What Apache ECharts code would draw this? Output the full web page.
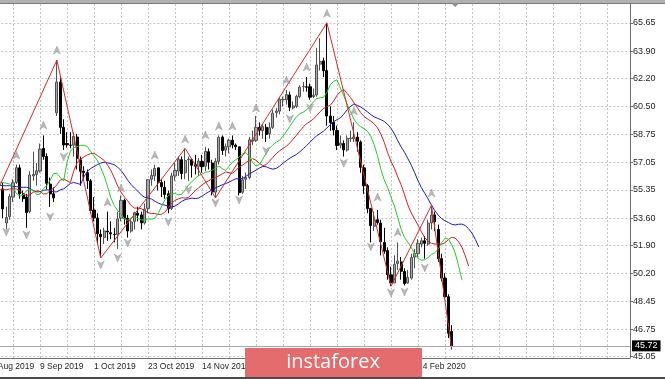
<!DOCTYPE html>
<html><head><meta charset="utf-8">
<script src="https://cdn.jsdelivr.net/npm/echarts@6/dist/echarts.min.js"></script>
<style>html,body{margin:0;padding:0;background:#fff}#c{width:665px;height:379px}</style>
</head><body><div id="c"></div>
<script>
// ---- price axis ticks ----
const yTicks = [45.05, 46.75, 48.45, 50.20, 51.90, 53.60, 55.35, 57.05, 58.75, 60.50, 62.20, 63.90, 65.65];
// ---- bar-index positions of vertical grid lines and date labels ----
const xGridIdx = [3, 11, 19, 27, 35, 43, 51, 59, 67, 75, 83, 91, 99, 107, 115, 123, 131, 139, 147, 155, 163, 171, 179];
const xLabelIdx = [-5, 11, 27, 43, 59, 75, 91, 107, 123];
const xLabelText = ['16 Aug 2019', '9 Sep 2019', '1 Oct 2019', '23 Oct 2019', '14 Nov 2019', '6 Dec 2019', '31 Dec 2019', '23 Jan 2020', '14 Feb 2020'];
const lastPrice = 45.72;
const shiftIdx = 134;
const lineStart = -1;   // first Alligator value belongs to the bar just left of the screen

// ---- daily candles (bar 0 = 23 Aug 2019) ----
const opens = [
55.40,53.30,53.70,54.90,55.80,56.70,55.10,54.90,54.00,56.20,
56.30,56.50,57.90,57.40,55.70,55.10,60.10,62.00,59.20,58.20,
58.10,58.10,58.60,57.20,56.50,56.40,55.90,54.10,53.60,52.60,
52.40,52.80,52.70,52.60,52.60,53.60,54.70,53.60,52.80,53.40,
53.90,53.80,53.30,54.20,56.00,56.20,56.70,55.80,55.50,55.10,
54.20,56.20,56.50,57.20,56.40,57.20,57.20,56.90,56.80,57.10,
56.80,57.70,57.00,55.20,57.10,58.60,57.80,58.00,58.40,58.10,
58.00,55.20,56.00,56.10,58.35,58.40,59.20,59.00,59.20,58.80,
59.20,60.10,60.20,60.90,60.90,61.20,60.40,60.50,61.10,61.70,
61.70,61.70,61.10,61.20,63.10,63.30,62.70,59.90,59.50,59.00,
58.10,58.20,57.80,58.50,58.50,58.60,58.30,56.70,55.60,54.20,
53.10,53.50,53.30,52.10,51.60,50.10,49.60,50.80,50.90,50.30,
49.60,49.90,51.20,51.40,52.00,52.20,52.00,53.30,53.80,52.90,
51.10,49.90,48.75,46.60];
const highs = [
55.80,54.30,55.10,56.00,56.90,56.90,55.30,55.10,56.50,57.70,
57.00,58.20,58.70,57.60,56.10,55.50,63.35,62.30,59.70,58.90,
58.90,58.90,58.80,57.40,56.80,56.60,56.00,54.90,53.90,52.90,
53.00,54.00,53.40,53.00,54.00,55.00,54.80,53.80,53.60,54.00,
54.30,54.00,54.50,56.00,56.60,56.90,56.70,56.00,55.90,55.30,
56.40,57.00,57.40,57.40,57.90,57.40,57.30,57.50,57.30,57.50,
58.00,57.90,57.20,57.30,58.70,58.70,58.20,58.50,58.70,58.20,
58.00,56.20,56.40,58.60,59.00,59.90,59.50,59.40,59.40,59.50,
60.30,60.40,61.00,61.10,61.50,61.40,60.80,61.20,61.80,62.00,
62.30,61.90,61.60,64.10,64.70,63.50,65.65,60.50,59.90,59.30,
58.70,58.40,58.70,59.00,59.50,58.90,58.40,56.90,55.70,54.20,
54.00,54.10,53.50,53.00,51.80,50.60,51.30,52.10,51.20,50.50,
50.40,51.40,51.70,52.30,52.40,52.50,53.50,54.40,54.00,53.20,
51.40,50.20,48.90,47.00];
const lows = [
53.60,52.90,53.50,54.60,55.70,54.80,54.60,53.00,53.90,55.90,
55.60,56.40,57.20,55.40,54.30,54.60,59.90,58.80,57.80,57.95,
57.90,57.40,56.60,55.60,55.90,55.40,53.90,53.40,52.00,51.14,
52.00,52.20,52.30,52.10,51.70,53.40,53.20,52.40,52.70,52.90,
53.40,52.90,53.20,53.90,55.60,55.90,55.30,54.90,54.80,53.90,
54.10,55.90,56.20,56.00,56.00,55.90,56.10,56.30,56.20,56.40,
56.50,56.60,55.00,54.85,56.90,57.50,57.40,57.60,57.90,57.80,
55.00,55.10,55.40,56.00,58.10,58.30,58.70,58.50,58.30,58.50,
59.10,59.80,60.00,60.50,60.60,60.20,60.30,60.40,61.00,61.40,
61.40,60.90,61.00,61.10,62.70,62.30,59.30,59.00,58.70,57.80,
57.90,57.40,57.70,58.30,58.30,57.70,56.40,55.10,53.90,52.10,
52.80,53.20,51.30,51.40,49.80,49.40,49.60,50.40,49.80,49.45,
49.55,49.80,50.50,51.20,51.80,51.10,51.90,52.90,52.80,50.90,
49.70,48.60,46.20,45.50];
const closes = [
54.17,53.64,54.93,55.78,56.71,55.10,54.80,53.94,56.26,56.30,
56.52,57.85,57.40,55.75,55.09,54.85,62.00,59.20,58.11,58.13,
58.09,58.64,57.29,56.49,56.41,55.91,54.07,53.62,52.64,52.45,
52.81,52.75,52.63,52.59,53.55,54.70,53.59,52.81,53.36,53.93,
53.78,53.31,54.16,55.97,56.23,56.66,55.81,55.54,55.06,54.18,
56.20,56.54,57.23,56.35,57.15,57.24,56.86,56.80,57.12,56.77,
57.72,57.05,55.21,57.11,58.58,57.77,58.01,58.41,58.11,58.00,
55.17,55.96,56.10,58.43,58.43,59.20,59.02,59.24,58.76,59.18,
60.07,60.21,60.94,60.93,61.22,60.44,60.52,61.11,61.68,61.72,
61.68,61.06,61.18,63.05,63.27,62.70,59.90,59.50,59.04,58.08,
58.23,57.81,58.52,58.54,58.60,58.34,56.74,55.59,54.19,53.14,
53.48,53.33,52.14,51.56,50.11,49.61,50.75,50.95,50.32,49.57,
49.94,51.17,51.42,52.05,52.20,52.05,53.29,53.78,53.38,51.10,
49.90,48.75,46.50,45.72];

// ---- Alligator lines (first value at bar lineStart) ----
const jawLine = [
55.62,55.60,55.60,55.60,55.55,55.55,55.50,55.50,55.50,
55.44,55.30,55.22,55.23,55.31,55.35,55.32,55.22,55.22,55.34,
55.41,55.56,55.74,55.80,55.74,55.68,56.14,56.48,56.66,56.78,
56.90,57.00,57.05,57.01,56.96,56.89,56.74,56.54,56.26,55.93,
55.67,55.45,55.26,55.03,54.89,54.84,54.78,54.65,54.53,54.45,
54.40,54.33,54.29,54.34,54.48,54.63,54.74,54.79,54.83,54.81,
54.84,54.96,55.10,55.22,55.35,55.47,55.56,55.66,55.73,55.82,
55.93,56.03,56.03,56.04,56.18,56.33,56.44,56.56,56.69,56.79,
56.77,56.68,56.62,56.67,56.81,56.99,57.15,57.29,57.42,57.53,
57.70,57.88,58.08,58.29,58.50,58.68,58.82,58.97,59.16,59.37,
59.55,59.68,59.79,60.01,60.29,60.49,60.64,60.56,60.46,60.31,
60.16,59.99,59.85,59.76,59.67,59.56,59.39,59.13,58.80,58.37,
57.99,57.66,57.26,56.87,56.40,55.90,55.48,55.13,54.77,54.40,
54.05,53.78,53.57,53.43,53.33,53.22,53.18,53.22,53.23,53.14,
52.94,52.67,52.28,51.82];
const teethLine = [
55.35,55.35,55.35,55.40,55.40,55.40,
55.31,55.10,55.00,55.04,55.20,55.28,55.24,55.09,55.10,55.31,
55.43,55.66,55.95,56.02,55.90,55.79,56.52,57.02,57.24,57.37,
57.50,57.58,57.60,57.46,57.32,57.16,56.88,56.54,56.09,55.58,
55.20,54.91,54.67,54.37,54.22,54.22,54.19,54.05,53.94,53.88,
53.88,53.83,53.83,53.97,54.24,54.51,54.70,54.79,54.86,54.83,
54.88,55.08,55.30,55.47,55.65,55.80,55.91,56.03,56.10,56.21,
56.33,56.45,56.40,56.36,56.54,56.74,56.87,57.02,57.17,57.27,
57.17,56.97,56.84,56.90,57.11,57.36,57.58,57.75,57.91,58.03,
58.24,58.47,58.72,58.98,59.23,59.43,59.56,59.72,59.93,60.17,
60.37,60.48,60.56,60.82,61.18,61.40,61.54,61.29,61.04,60.73,
60.43,60.11,59.87,59.72,59.58,59.42,59.17,58.77,58.27,57.63,
57.10,56.67,56.14,55.65,55.04,54.40,53.91,53.54,53.16,52.75,
52.39,52.17,52.04,52.00,52.01,51.99,52.08,52.28,52.42,52.37,
52.14,51.80,51.27,50.64];
const lipsLine = [
55.82,55.80,55.75,55.70,
55.50,55.12,54.96,55.02,55.28,55.39,55.30,55.05,55.08,55.42,
55.60,55.94,56.34,56.37,56.11,55.89,57.04,57.74,57.95,58.01,
58.09,58.10,58.02,57.72,57.44,57.15,56.71,56.20,55.55,54.84,
54.37,54.07,53.85,53.54,53.46,53.61,53.69,53.57,53.49,53.48,
53.55,53.53,53.60,53.87,54.32,54.73,54.99,55.08,55.13,55.03,
55.07,55.35,55.64,55.85,56.06,56.22,56.31,56.43,56.46,56.56,
56.69,56.80,56.65,56.54,56.79,57.05,57.20,57.37,57.55,57.64,
57.41,57.04,56.81,56.91,57.24,57.61,57.91,58.12,58.29,58.40,
58.66,58.95,59.26,59.57,59.86,60.05,60.14,60.28,60.50,60.77,
60.97,61.02,61.05,61.36,61.83,62.04,62.13,61.62,61.15,60.63,
60.16,59.71,59.41,59.25,59.12,58.96,58.64,58.12,57.45,56.59,
55.95,55.49,54.88,54.34,53.63,52.90,52.41,52.11,51.79,51.41,
51.11,51.01,51.03,51.17,51.36,51.46,51.70,52.09,52.36,52.30,
51.96,51.45,50.67,49.79];

// ---- ZigZag vertices ----
const zigIdx = [-12, 16, 29, 54, 63, 96, 115, 127, 133];
const zigVal = [50.52, 63.35, 51.14, 57.90, 54.85, 65.65, 49.40, 54.40, 45.50];

// ---- Fractal arrows ----
const upIdx = [4, 12, 16, 31, 35, 45, 54, 60, 64, 68, 75, 84, 90, 96, 104, 111, 117, 127];
const upPos = [57.49, 59.34, 63.97, 54.59, 55.46, 57.49, 58.48, 58.73, 59.28, 59.28, 60.39, 62.12, 62.92, 66.24, 60.21, 54.90, 52.74, 55.15];
const dnIdx = [1, 7, 14, 18, 29, 34, 37, 49, 55, 63, 70, 78, 85, 91, 101, 109, 115, 119, 125];
const dnPos = [52.74, 52.56, 53.67, 57.37, 50.71, 51.14, 52.06, 53.36, 55.33, 54.53, 54.72, 57.74, 59.72, 60.39, 56.99, 51.82, 48.98, 49.04, 50.52];

const candleData = opens.map((o, i) => [i, o, closes[i], lows[i], highs[i]]);
const toPts = arr => arr.map((v, i) => [i + lineStart, v]);
const arrowPath = 'path://M5,0 L10,11 L5,8 L0,11 Z';
const FONT = 'Liberation Sans';

const chart = echarts.init(document.getElementById('c'), null, {renderer: 'canvas'});
const option = {
  animation: false,
  backgroundColor: '#ffffff',
  grid: {left: -14.65, right: 35, top: 4, bottom: 21, containLabel: false, outerBoundsMode: 'none'},
  xAxis: {
    type: 'value', min: -5.2, max: 185.8, position: 'bottom',
    axisLine: {show: true, onZero: false, lineStyle: {color: '#6e6e6e', width: 1}},
    axisTick: {show: false, customValues: xGridIdx},
    splitLine: {show: true, lineStyle: {color: '#c6c6c6', type: [2, 2], width: 1}},
    axisLabel: {
      customValues: xLabelIdx,
      formatter: v => xLabelText[xLabelIdx.indexOf(v)] || '',
      align: 'left', margin: 4, color: '#1e1e1e', fontSize: 8.5, fontFamily: FONT
    }
  },
  yAxis: {
    type: 'value', position: 'right', min: 44.97, max: 66.81,
    axisLine: {show: true, onZero: false, lineStyle: {color: '#6e6e6e', width: 1}},
    axisTick: {show: true, length: 3, customValues: yTicks, lineStyle: {color: '#6e6e6e'}},
    splitLine: {show: true, lineStyle: {color: '#c6c6c6', type: [2, 2], width: 1}},
    axisLabel: {
      customValues: yTicks, formatter: v => v.toFixed(2),
      margin: 3, color: '#1e1e1e', fontSize: 9, fontFamily: FONT
    }
  },
  series: [
    {
      type: 'candlestick', data: candleData, encode: {x: 0, y: [1, 2, 3, 4]},
      barWidth: 2.6, z: 2,
      itemStyle: {color: '#a8a8a8', color0: '#000000', borderColor: '#505050', borderColor0: '#000000', borderWidth: 1},
      markLine: {
        silent: true, symbol: ['none', 'none'], animation: false,
        lineStyle: {color: '#a8a8a8', type: 'solid', width: 1},
        label: {show: true, position: 'end', distance: 2, formatter: lastPrice.toFixed(2),
          backgroundColor: '#000', color: '#fff', fontSize: 9, fontFamily: FONT, padding: [1, 3, 1, 3]},
        data: [{yAxis: lastPrice}]
      }
    },
    {type: 'line', data: toPts(jawLine), symbol: 'none', z: 3, lineStyle: {color: '#1c1cc8', width: 1}},
    {type: 'line', data: toPts(teethLine), symbol: 'none', z: 3, lineStyle: {color: '#d41f1f', width: 1}},
    {type: 'line', data: toPts(lipsLine), symbol: 'none', z: 3, lineStyle: {color: '#22cc22', width: 1}},
    {type: 'line', data: zigIdx.map((x, i) => [x, zigVal[i]]), symbol: 'none', z: 4, lineStyle: {color: '#d42a2a', width: 1}},
    {type: 'scatter', data: upIdx.map((x, i) => [x, upPos[i]]), symbol: arrowPath, symbolSize: [7, 8], z: 5,
      itemStyle: {color: '#a6a6a6', borderColor: '#8c8c8c', borderWidth: 0.5}},
    {type: 'scatter', data: dnIdx.map((x, i) => [x, dnPos[i]]), symbol: arrowPath, symbolSize: [7, 8], symbolRotate: 180, z: 5,
      itemStyle: {color: '#a6a6a6', borderColor: '#8c8c8c', borderWidth: 0.5}}
  ],
  graphic: [
    {type: 'rect', z: 100, shape: {x: 0, y: 0, width: 665, height: 3}, style: {fill: '#b0b0b0'}},
    {type: 'rect', z: 100, shape: {x: 0, y: 3, width: 665, height: 1}, style: {fill: '#7c7c7c'}},
    {type: 'rect', z: 100, shape: {x: 0, y: 377, width: 665, height: 2}, style: {fill: '#4a4a4a'}},
    {type: 'rect', z: 100, shape: {x: 245, y: 348, width: 177, height: 29}, style: {fill: '#e46c6c'}},
    {type: 'text', z: 101, style: {text: 'instaforex', x: 333, y: 362, fill: '#ffffff', fontSize: 20, fontFamily: 'Open Sans', align: 'center', verticalAlign: 'middle'}}
  ]
};
chart.setOption(option);
const sx = chart.convertToPixel({xAxisIndex: 0}, shiftIdx);
option.graphic.push({type: 'polygon', z: 100, shape: {points: [[sx - 4, 3], [sx + 4, 3], [sx, 7]]}, style: {fill: '#8c8c8c'}});
chart.setOption({graphic: option.graphic});
</script>
</body></html>
